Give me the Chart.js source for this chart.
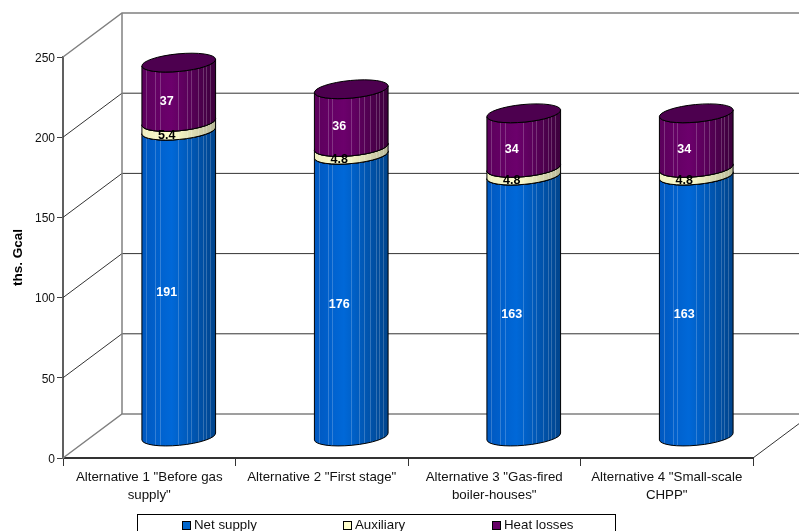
<!DOCTYPE html>
<html>
<head>
<meta charset="utf-8">
<title>Heat balance by alternative</title>
<script src="https://cdn.jsdelivr.net/npm/chart.js@4/dist/chart.umd.min.js"></script>
<style>
  html, body { margin: 0; padding: 0; background: #fff; overflow: hidden; }
  #wrap { width: 799px; height: 531px; position: relative; }
</style>
</head>
<body>
<div id="wrap"><canvas id="heatChart" width="799" height="531"></canvas></div>
<script>
const categories = [
  ['Alternative 1 "Before gas', 'supply"'],
  ['Alternative 2 "First stage"'],
  ['Alternative 3 "Gas-fired', 'boiler-houses"'],
  ['Alternative 4 "Small-scale', 'CHPP"']
];
const netSupply = [191, 176, 163, 163];
const auxiliary = [5.4, 4.8, 4.8, 4.8];
const heatLosses = [37, 36, 34, 34];
const yTicks = [0, 50, 100, 150, 200, 250];

const FONT = '"Liberation Sans", Arial, sans-serif';

// fake 3D box: how far the back wall sits behind the front plane
const DEPTH_X = 59;
const DEPTH_Y = -44;
const BAR_DX = 29.5;
const BAR_DY = -21;
const ELLIPSE_RY = 8.8;
const ELLIPSE_ROT = -5.4 * Math.PI / 180;

// left edge, mid and right edge colours of each cylinder side, then the lid
const shades = [
  { stops: ['#0058c0', '#0068d8', '#00448c'], lid: '#0066cc', text: '#fff' },
  { stops: ['#eeeec0', '#ffffcc', '#b8b898'], lid: '#ffffcc', text: '#000' },
  { stops: ['#5c005c', '#6c006c', '#3c003c'], lid: '#4d004f', text: '#fff' }
];
// lighter vertical seams on the cylinder sides, as a fraction of the width
const seams = [0.06, 0.18, 0.24, 0.49, 0.61, 0.67, 0.76, 0.83, 0.87, 0.93];
// legend entries: swatch x positions
const legendX = [182, 343, 492];

function drawCylinder(ctx, bar, shade) {
  const cx = bar.x + BAR_DX;
  const rx = bar.width / 2;
  const top = bar.y + BAR_DY;
  const bottom = bar.base + BAR_DY;
  const dx = rx * Math.cos(ELLIPSE_ROT);
  const dy = rx * Math.sin(ELLIPSE_ROT);

  const side = new Path2D();
  side.moveTo(cx + dx, top + dy);
  side.lineTo(cx + dx, bottom + dy);
  side.ellipse(cx, bottom, rx, ELLIPSE_RY, ELLIPSE_ROT, 0, Math.PI);
  side.lineTo(cx - dx, top - dy);
  side.ellipse(cx, top, rx, ELLIPSE_RY, ELLIPSE_ROT, Math.PI, 0, true);
  side.closePath();

  const grad = ctx.createLinearGradient(cx - dx, 0, cx + dx, 0);
  grad.addColorStop(0, shade.stops[0]);
  grad.addColorStop(0.4, shade.stops[1]);
  grad.addColorStop(1, shade.stops[2]);
  ctx.fillStyle = grad;
  ctx.fill(side);

  ctx.save();
  ctx.clip(side);
  ctx.strokeStyle = 'rgba(255,255,255,0.2)';
  ctx.lineWidth = 1;
  seams.forEach(s => {
    const sx = Math.round(cx - dx + s * 2 * dx) + 0.5;
    ctx.beginPath();
    ctx.moveTo(sx, top - 12);
    ctx.lineTo(sx, bottom + 12);
    ctx.stroke();
  });
  ctx.restore();

  ctx.strokeStyle = '#000';
  ctx.lineWidth = 1;
  ctx.stroke(side);

  ctx.beginPath();
  ctx.ellipse(cx, top, rx, ELLIPSE_RY, ELLIPSE_ROT, 0, Math.PI * 2);
  ctx.fillStyle = shade.lid;
  ctx.fill();
  ctx.stroke();
}

const box3d = {
  id: 'box3d',
  beforeDatasetsDraw(chart) {
    const { ctx, scales: { x, y } } = chart;
    const left = x.left, right = x.right, floor = y.bottom;

    // walls and floor
    ctx.save();
    y.ticks.forEach(t => {
      const py = y.getPixelForValue(t.value);
      const edge = t.value === 0 || t.value === 250;
      ctx.strokeStyle = edge ? '#808080' : '#333';
      ctx.lineWidth = edge ? 1.5 : 1;
      ctx.beginPath();
      ctx.moveTo(left, py);
      ctx.lineTo(left + DEPTH_X, py + DEPTH_Y);
      ctx.lineTo(right + DEPTH_X, py + DEPTH_Y);
      ctx.stroke();
    });
    ctx.strokeStyle = '#808080';
    ctx.lineWidth = 1.5;
    ctx.beginPath();
    ctx.moveTo(left + DEPTH_X, y.top + DEPTH_Y);
    ctx.lineTo(left + DEPTH_X, floor + DEPTH_Y);
    ctx.stroke();
    ctx.strokeStyle = '#333';
    ctx.lineWidth = 1;
    ctx.beginPath();
    ctx.moveTo(right, floor);
    ctx.lineTo(right + DEPTH_X, floor + DEPTH_Y);
    ctx.stroke();

    // cylinders, bottom segment first
    chart.data.datasets.forEach((ds, i) => {
      chart.getDatasetMeta(i).data.forEach(bar => drawCylinder(ctx, bar, shades[i]));
    });

    // value labels on the front of each segment
    ctx.font = 'bold 12.5px ' + FONT;
    ctx.textAlign = 'center';
    ctx.textBaseline = 'middle';
    chart.data.datasets.forEach((ds, i) => {
      chart.getDatasetMeta(i).data.forEach((bar, j) => {
        ctx.fillStyle = shades[i].text;
        const mid = (bar.y + bar.base) / 2 + BAR_DY + ELLIPSE_RY;
        ctx.fillText(String(ds.data[j]), bar.x + BAR_DX - 12, mid);
      });
    });
    ctx.restore();
  },
  beforeDatasetDraw() {
    return false; // the cylinders above replace the flat bars
  },
  afterDraw(chart) {
    // legend strip along the bottom, running off the page
    const { ctx } = chart;
    ctx.save();
    ctx.strokeStyle = '#000';
    ctx.lineWidth = 1;
    ctx.strokeRect(137.5, 514.5, 478, 30);
    ctx.font = '13.3px ' + FONT;
    ctx.textAlign = 'left';
    ctx.textBaseline = 'middle';
    chart.data.datasets.forEach((ds, i) => {
      ctx.fillStyle = ds.backgroundColor;
      ctx.fillRect(legendX[i] + 0.5, 521.5, 8, 8);
      ctx.strokeRect(legendX[i] + 0.5, 521.5, 8, 8);
      ctx.fillStyle = '#111';
      ctx.fillText(ds.label, legendX[i] + 12, 525.5);
    });
    ctx.restore();
  }
};

new Chart(document.getElementById('heatChart'), {
  type: 'bar',
  data: {
    labels: categories,
    datasets: [
      { label: 'Net supply', data: netSupply, backgroundColor: '#0066cc' },
      { label: 'Auxiliary', data: auxiliary, backgroundColor: '#ffffcc' },
      { label: 'Heat losses', data: heatLosses, backgroundColor: '#660066' }
    ]
  },
  options: {
    responsive: false,
    animation: false,
    barPercentage: 0.429,
    categoryPercentage: 1,
    layout: { padding: { top: 57, right: 46, bottom: 0, left: 0 } },
    plugins: {
      tooltip: { enabled: false },
      legend: { display: false }
    },
    scales: {
      x: {
        stacked: true,
        afterFit(scale) { scale.height = 73; },
        grid: { display: true, offset: true, drawOnChartArea: false, drawTicks: true, tickLength: 8, color: '#333', lineWidth: 1 },
        border: { display: true, color: '#333', width: 2 },
        ticks: {
          color: '#111',
          maxRotation: 0,
          autoSkip: false,
          padding: 3,
          font: { family: FONT, size: 13.3, lineHeight: 1.3 }
        }
      },
      y: {
        stacked: true,
        min: 0,
        max: 250,
        afterFit(scale) { scale.width = 63; },
        afterBuildTicks(scale) { scale.ticks = yTicks.map(value => ({ value })); },
        grid: { display: true, drawOnChartArea: false, drawTicks: true, tickLength: 6, color: '#404040', lineWidth: 1 },
        border: { display: true, color: '#606060', width: 2 },
        ticks: {
          color: '#111',
          padding: 2,
          // empty first line nudges the number down level with its tick
          callback: value => ['', String(value)],
          font: { family: FONT, size: 12, lineHeight: '3px' }
        },
        title: {
          display: true,
          text: 'ths. Gcal',
          color: '#000',
          padding: { top: 10, bottom: 0 },
          font: { family: FONT, size: 13.5, weight: 'bold' }
        }
      }
    }
  },
  plugins: [box3d]
});
</script>
</body>
</html>
